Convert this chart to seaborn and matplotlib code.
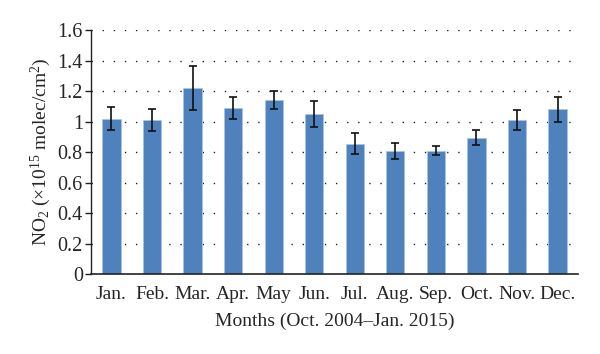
import matplotlib
matplotlib.use("Agg")
import matplotlib.pyplot as plt
import pandas as pd
import seaborn as sns

# Monthly mean NO2 columns and their error bars
months = ["Jan.", "Feb.", "Mar.", "Apr.", "May", "Jun.",
          "Jul.", "Aug.", "Sep.", "Oct.", "Nov.", "Dec."]
no2 = [1.02, 1.01, 1.22, 1.09, 1.14, 1.05, 0.855, 0.805, 0.81, 0.895, 1.01, 1.08]
err = [0.078, 0.075, 0.147, 0.071, 0.06, 0.087, 0.07, 0.052, 0.028, 0.049, 0.068, 0.084]
yticks = [0, 0.2, 0.4, 0.6, 0.8, 1, 1.2, 1.4, 1.6]

sns.set_style("white")
plt.rcParams['font.family'] = ['Liberation Serif', 'DejaVu Serif']
plt.rcParams['mathtext.default'] = 'regular'

df = pd.DataFrame({"month": months, "no2": no2})

fig = plt.figure(figsize=(6, 3.54), dpi=100)
ax = fig.add_axes([0.152, 0.226, 0.811, 0.689])

# dotted horizontal gridlines behind the bars
for y in yticks[1:]:
    ax.axhline(y, color="#222222", lw=1.0, linestyle=(0, (1, 7)), zorder=0)

sns.barplot(data=df, x="month", y="no2", color="#4F81BD", saturation=1,
            width=0.45, edgecolor="#A9C4E4", linewidth=0.6, ax=ax, zorder=2)
ax.errorbar(range(len(months)), no2, yerr=err, fmt="none", ecolor="#111111",
            elinewidth=1.2, capsize=3, capthick=1.2, zorder=3)

ax.set_xlim(-0.5, 11.5)
ax.set_ylim(0, 1.6)
ax.set_yticks(yticks)
ax.set_yticklabels(["0", "0.2", "0.4", "0.6", "0.8", "1", "1.2", "1.4", "1.6"])

sns.despine(ax=ax)
ax.spines["left"].set_color("#222222")
ax.spines["bottom"].set_color("#222222")
ax.spines["left"].set_linewidth(1.0)
ax.spines["bottom"].set_linewidth(1.2)
ax.tick_params(axis="y", left=True, length=4, width=1.0, color="#222222",
               labelsize=14.5, pad=2)
ax.tick_params(axis="x", bottom=False, labelsize=14, pad=5)

ax.set_xlabel("Months (Oct. 2004–Jan. 2015)", fontsize=14, labelpad=7)
ax.set_ylabel("NO$_2$ (×10$^{15}$ molec/cm$^2$)", fontsize=14, labelpad=3)

fig.savefig("out.png", dpi=100)
